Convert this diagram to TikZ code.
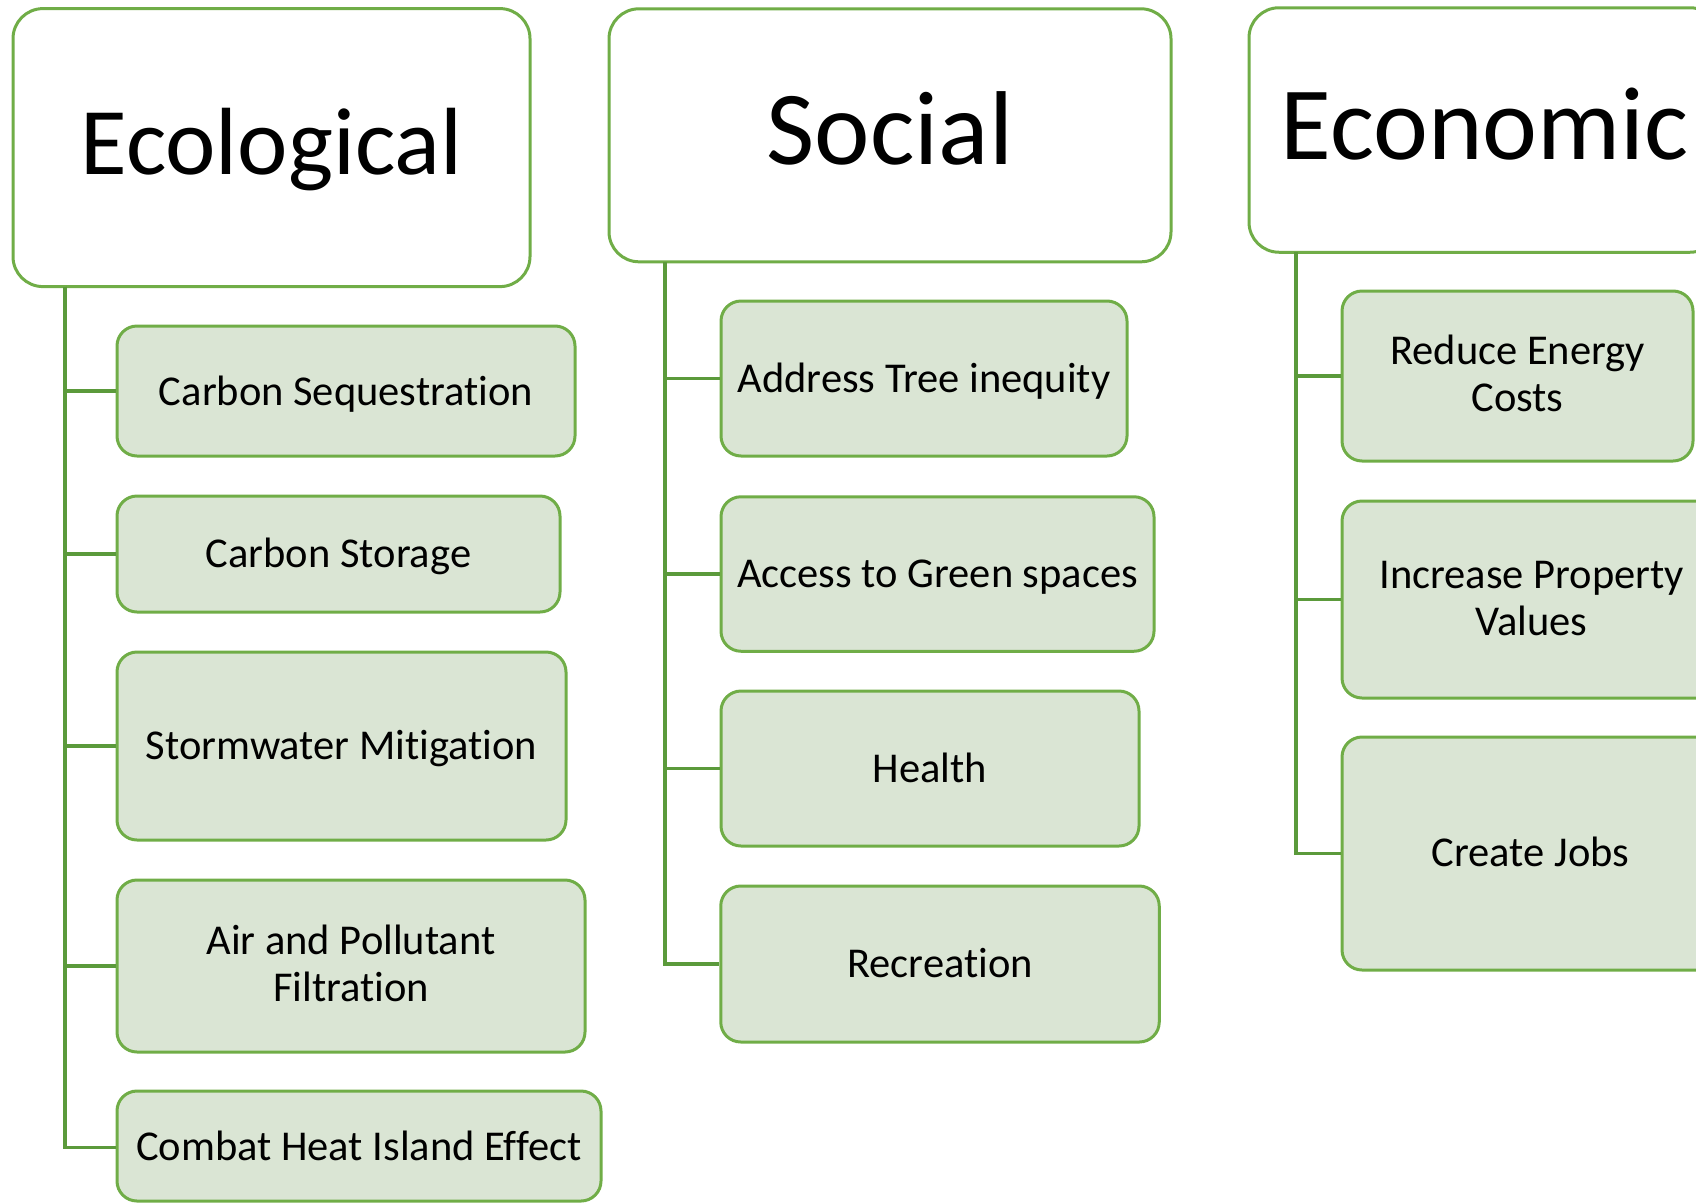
\documentclass[tikz,border=0pt]{standalone}
\usepackage{fontspec}
\setmainfont{Carlito}[Ligatures={NoCommon}]
\definecolor{gborder}{RGB}{112,173,71}
\definecolor{gconn}{RGB}{91,154,59}
\definecolor{gfill}{RGB}{218,229,212}
\tikzset{
  header/.style={draw=gborder, line width=3pt, fill=white, rounded corners=30pt, inner sep=0pt},
  item/.style={draw=gborder, line width=3pt, fill=gfill, rounded corners=20pt, inner sep=0pt},
  conn/.style={draw=gconn, line width=3.2pt},
  lbl/.style={inner sep=0pt, font=\fontsize{42.5}{47}\selectfont, align=center},
  htitle/.style={inner sep=0pt, anchor=base},
}
\begin{document}
\begin{tikzpicture}[x=1pt,y=-1pt]
\useasboundingbox (0,0) rectangle (1696,1202);
\clip (0,0) rectangle (1696,1202);

% header boxes
\node[header, minimum width=517pt, minimum height=278pt] (eco) at (271.5,147.6) {};
\node[header, minimum width=562pt, minimum height=253pt] (soc) at (890,135.3) {};
\node[header, minimum width=471pt, minimum height=244.5pt] (econ) at (1484.5,130) {};

\node[htitle, font=\fontsize{95.5}{100}\selectfont] (eco-t) at (271.5,174) {Ecological};
\node[htitle, font=\fontsize{105}{110}\selectfont] (soc-t) at (890,164.3) {Social};
\node[htitle, font=\fontsize{104}{110}\selectfont] (econ-t) at (1484.5,159.3) {Economic};

% trunk start points
\coordinate (ecoT) at (65,286.6);
\coordinate (socT) at (665,262);
\coordinate (econT) at (1296,252);

% ecological items
\node[item, minimum width=458pt, minimum height=130pt] (cs) at (346,391) {};
\node[item, minimum width=443pt, minimum height=116pt] (cst) at (338.5,554) {};
\node[item, minimum width=449pt, minimum height=188pt] (sm) at (341.5,746) {};
\node[item, minimum width=468pt, minimum height=172pt] (apf) at (351,966) {};
\node[item, minimum width=484pt, minimum height=110pt] (chie) at (359,1146) {};

% social items
\node[item, minimum width=406pt, minimum height=155pt] (ati) at (924,378.5) {};
\node[item, minimum width=433pt, minimum height=154.5pt] (ags) at (937.5,574) {};
\node[item, minimum width=418pt, minimum height=155pt] (hl) at (930,768.5) {};
\node[item, minimum width=438.5pt, minimum height=156pt] (rc) at (940,964) {};

% economic items
\node[item, minimum width=351pt, minimum height=170pt] (rec) at (1517.5,376) {};
\node[item, minimum width=379pt, minimum height=197pt] (ipv) at (1531.5,599.5) {};
\node[item, minimum width=377pt, minimum height=233pt] (cj) at (1530.5,853.5) {};

% connectors
\foreach \c in {cs,cst,sm,apf} \draw[conn] (ecoT) |- (\c.west);
\draw[conn] (ecoT) |- (chie.west |- 0,1147.6);
\foreach \c in {ati,ags,hl,rc} \draw[conn] (socT) |- (\c.west);
\foreach \c in {rec,ipv,cj} \draw[conn] (econT) |- (\c.west);

% labels (anchor=base is the baseline of the last line)
\node[lbl, anchor=base] (cs-t) at (346,405) {Carbon Sequestration};
\node[lbl, anchor=base] (cst-t) at (338.5,567.5) {Carbon Storage};
\node[lbl, anchor=base] (sm-t) at (341.5,759.5) {Stormwater Mitigation};
\node[lbl, anchor=base] (apf-t) at (351,1001.7) {Air and Pollutant\\Filtration};
\node[lbl, anchor=base] (chie-t) at (359,1160) {Combat Heat Island Effect};

\node[lbl, anchor=base] (ati-t) at (924,392) {Address Tree inequity};
\node[lbl, anchor=base] (ags-t) at (937.5,587.5) {Access to Green spaces};
\node[lbl, anchor=base] (hl-t) at (930,782) {Health};
\node[lbl, anchor=base] (rc-t) at (940,977.5) {Recreation};

\node[lbl, anchor=base] (rec-t) at (1517.5,411.7) {Reduce Energy\\Costs};
\node[lbl, anchor=base] (ipv-t) at (1531.5,635) {Increase Property\\Values};
\node[lbl, anchor=base] (cj-t) at (1530.5,866.7) {Create Jobs};
\end{tikzpicture}
\end{document}
